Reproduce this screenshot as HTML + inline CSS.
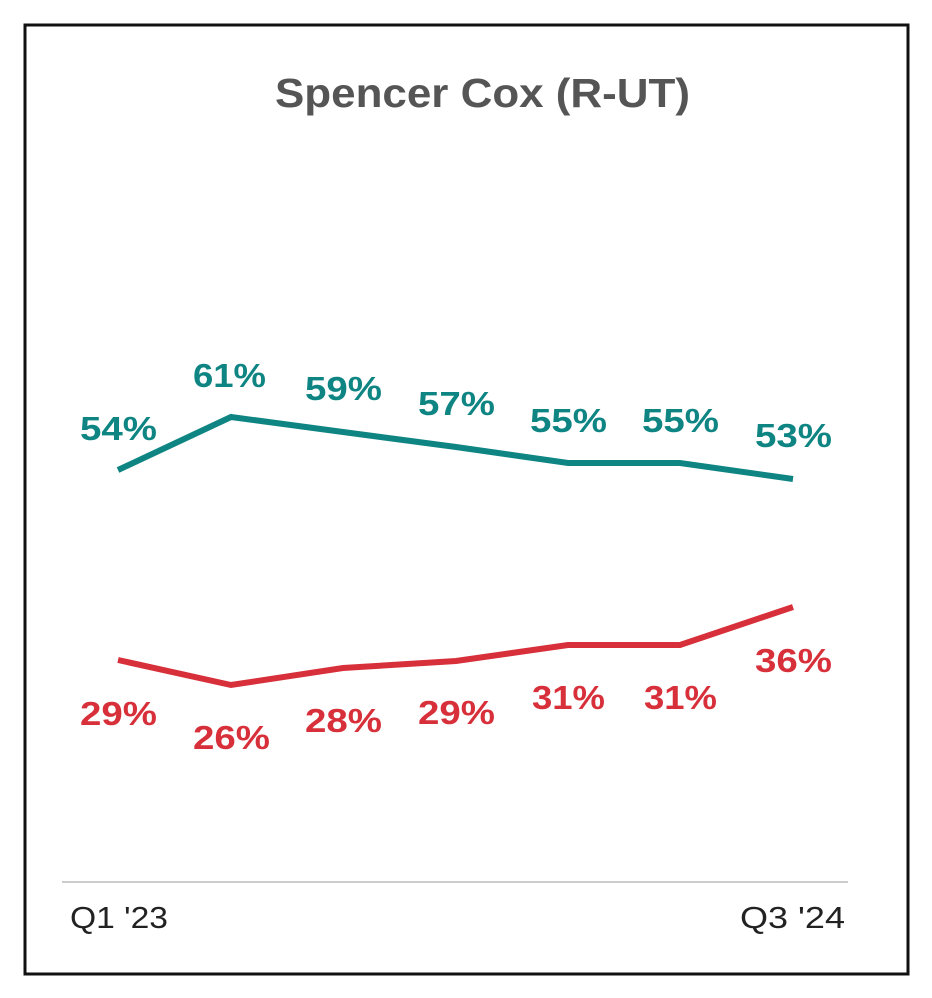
<!DOCTYPE html>
<html><head><style>
body{margin:0;background:#fff;}
svg{display:block;}
text{font-family:"Liberation Sans",Arial,sans-serif;}
</style></head><body>
<svg width="932" height="998" viewBox="0 0 932 998">
<rect x="0" y="0" width="932" height="998" fill="#fff"/>
<rect x="25" y="25" width="883" height="949" fill="none" stroke="#111" stroke-width="3"/>
<text x="275" y="107" font-size="41" font-weight="bold" fill="#555" textLength="415" lengthAdjust="spacingAndGlyphs">Spencer Cox (R-UT)</text>
<polyline points="118,470 231,417 343,432 456,447 568,463 680,463 793,479" fill="none" stroke="#0e8582" stroke-width="6"/>
<polyline points="118,660 231,685 343,668 456,661 568,645 680,645 793,607" fill="none" stroke="#d7303a" stroke-width="6"/>
<g font-size="33" font-weight="bold" fill="#0e8582">
<text x="80" y="440" textLength="77" lengthAdjust="spacingAndGlyphs">54%</text>
<text x="193" y="387" textLength="73" lengthAdjust="spacingAndGlyphs">61%</text>
<text x="305" y="400" textLength="77" lengthAdjust="spacingAndGlyphs">59%</text>
<text x="418" y="415" textLength="77" lengthAdjust="spacingAndGlyphs">57%</text>
<text x="530" y="432" textLength="77" lengthAdjust="spacingAndGlyphs">55%</text>
<text x="642" y="432" textLength="77" lengthAdjust="spacingAndGlyphs">55%</text>
<text x="755" y="447" textLength="77" lengthAdjust="spacingAndGlyphs">53%</text>
</g>
<g font-size="33" font-weight="bold" fill="#d7303a">
<text x="80" y="725" textLength="77" lengthAdjust="spacingAndGlyphs">29%</text>
<text x="193" y="749" textLength="77" lengthAdjust="spacingAndGlyphs">26%</text>
<text x="305" y="732" textLength="77" lengthAdjust="spacingAndGlyphs">28%</text>
<text x="418" y="724" textLength="77" lengthAdjust="spacingAndGlyphs">29%</text>
<text x="532" y="709" textLength="73" lengthAdjust="spacingAndGlyphs">31%</text>
<text x="644" y="709" textLength="73" lengthAdjust="spacingAndGlyphs">31%</text>
<text x="755" y="672" textLength="77" lengthAdjust="spacingAndGlyphs">36%</text>
</g>
<line x1="62" y1="882" x2="848" y2="882" stroke="#ccc" stroke-width="2"/>
<text x="70" y="928" font-size="31" fill="#222" textLength="98" lengthAdjust="spacingAndGlyphs">Q1 '23</text>
<text x="740" y="928" font-size="31" fill="#222" textLength="105" lengthAdjust="spacingAndGlyphs">Q3 '24</text>
</svg>
</body></html>
